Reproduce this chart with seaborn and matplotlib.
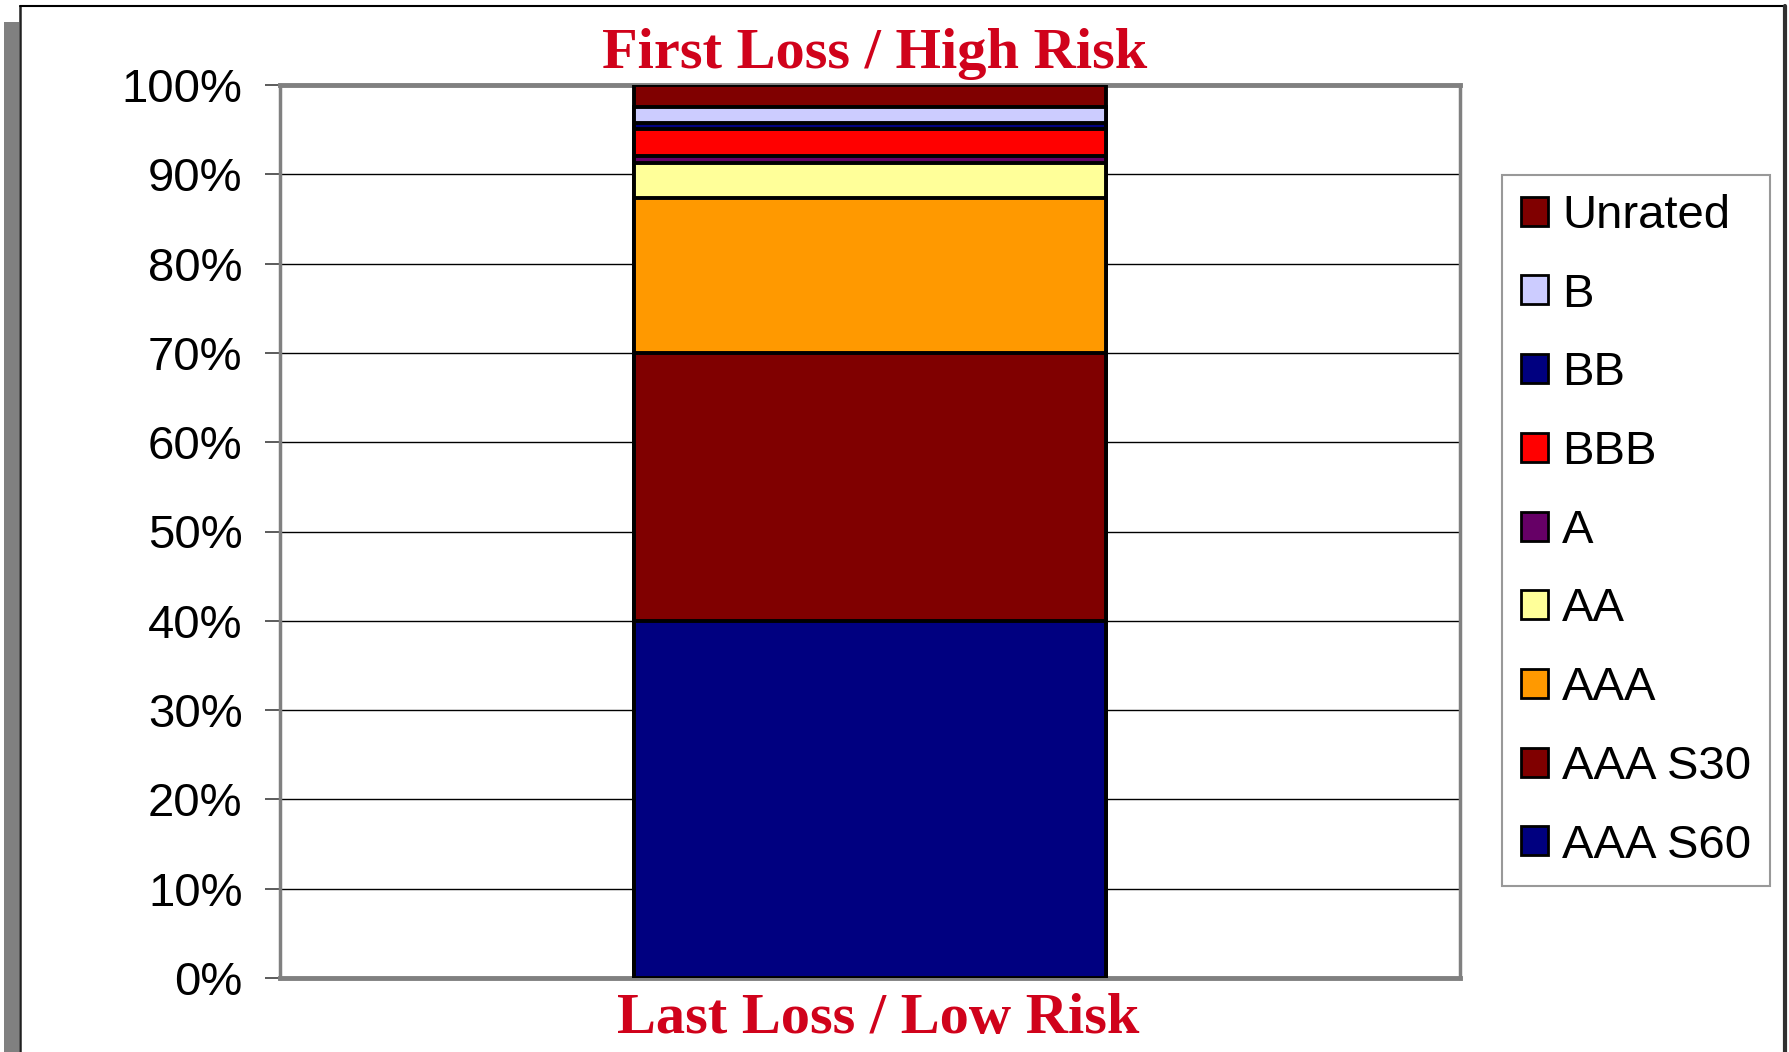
import matplotlib
matplotlib.use("Agg")
import matplotlib.pyplot as plt
import seaborn as sns
import pandas as pd
import numpy as np
from matplotlib.patches import Patch, Rectangle
from matplotlib.lines import Line2D
from matplotlib.ticker import FuncFormatter

# Capital structure of the pool, bottom (senior) to top (first loss), in percent
tranches = ["AAA S60", "AAA S30", "AAA", "AA", "A", "BBB", "BB", "B", "Unrated"]
shares = [40.0, 30.0, 17.4, 3.9, 0.75, 3.0, 0.75, 1.7, 2.5]
colors = ["#000080", "#800000", "#FF9900", "#FFFF99", "#660066",
          "#FF0000", "#000080", "#CCCCFF", "#800000"]
yticks = [0, 10, 20, 30, 40, 50, 60, 70, 80, 90, 100]
top_label = "First Loss / High Risk"
bottom_label = "Last Loss / Low Risk"

sns.set_style("white")
plt.rcParams["font.family"] = ["Liberation Sans", "DejaVu Sans"]
plt.rcParams["text.color"] = "black"

W, H = 1790, 1052
fig = plt.figure(figsize=(W / 100, H / 100), dpi=100)
ax = fig.add_axes([280 / W, 1 - 978 / H, 1180 / W, 893 / H])

# Stacked column: draw cumulative totals from the top down so each lower
# tranche covers the part of the previous bar beneath its boundary.
tops = np.cumsum(shares)
for i in reversed(range(len(tranches))):
    df = pd.DataFrame({"pool": [""], "top": [tops[i]]})
    sns.barplot(data=df, x="pool", y="top", color=colors[i], saturation=1,
                width=0.4, edgecolor="black", linewidth=2.8, errorbar=None,
                ax=ax, zorder=3)

ax.set_xlim(-0.5, 0.5)
ax.set_ylim(0, 100)
ax.set_yticks(yticks)
ax.yaxis.set_major_formatter(FuncFormatter(lambda v, p: f"{v:.0f}%"))
ax.set_xticks([])
ax.set_xlabel("")
ax.set_ylabel("")
ax.tick_params(axis="y", which="major", direction="out", length=11, width=1.2,
               color="#404040", pad=16, labelsize=34, labelcolor="black", left=True)
ax.yaxis.grid(True, color="black", linewidth=1.0, zorder=0)
ax.set_axisbelow(True)
for side, lw in (("left", 2.5), ("bottom", 3.5), ("top", 3.5), ("right", 2.5)):
    ax.spines[side].set_visible(True)
    ax.spines[side].set_color("#808080")
    ax.spines[side].set_linewidth(lw)

# Legend, listed from first loss at the top to most senior at the bottom
handles = [Patch(facecolor=colors[i], edgecolor="black", linewidth=2.0, label=tranches[i])
           for i in reversed(range(len(tranches)))]
leg = fig.legend(handles=handles, loc="upper left",
                 bbox_to_anchor=(1502 / W, 1 - 175 / H), frameon=True, fancybox=False,
                 fontsize=34, handlelength=0.57, handleheight=0.57, handletextpad=0.3,
                 labelspacing=0.735, borderpad=0.4, borderaxespad=0,
                 labelcolor="black")
leg.get_frame().set_edgecolor("#808080")
leg.get_frame().set_linewidth(1.5)

# Loss-order annotations above and below the column
title_kw = dict(family=["Liberation Serif", "DejaVu Serif"], weight="bold",
                color="#D0021B", fontsize=42, ha="center", va="baseline")
fig.text(875 / W, 1 - 68 / H, top_label, **title_kw)
fig.text(878 / W, 1 - 1033 / H, bottom_label, **title_kw)

# Slide-style frame with a grey shadow on the left
fig.add_artist(Rectangle((4 / W, 0), 15 / W, 1 - 22 / H, transform=fig.transFigure,
                         facecolor="#808080", edgecolor="none"))
fig.add_artist(Line2D([20 / W, 20 / W], [0, 1 - 6 / H], transform=fig.transFigure,
                      color="#202020", linewidth=1.8))
fig.add_artist(Line2D([20 / W, 1785 / W], [1 - 6 / H, 1 - 6 / H], transform=fig.transFigure,
                      color="black", linewidth=1.5))
fig.add_artist(Line2D([1785 / W, 1785 / W], [0, 1 - 6 / H], transform=fig.transFigure,
                      color="#303030", linewidth=3))

fig.savefig("out.png", dpi=100, facecolor="white")
